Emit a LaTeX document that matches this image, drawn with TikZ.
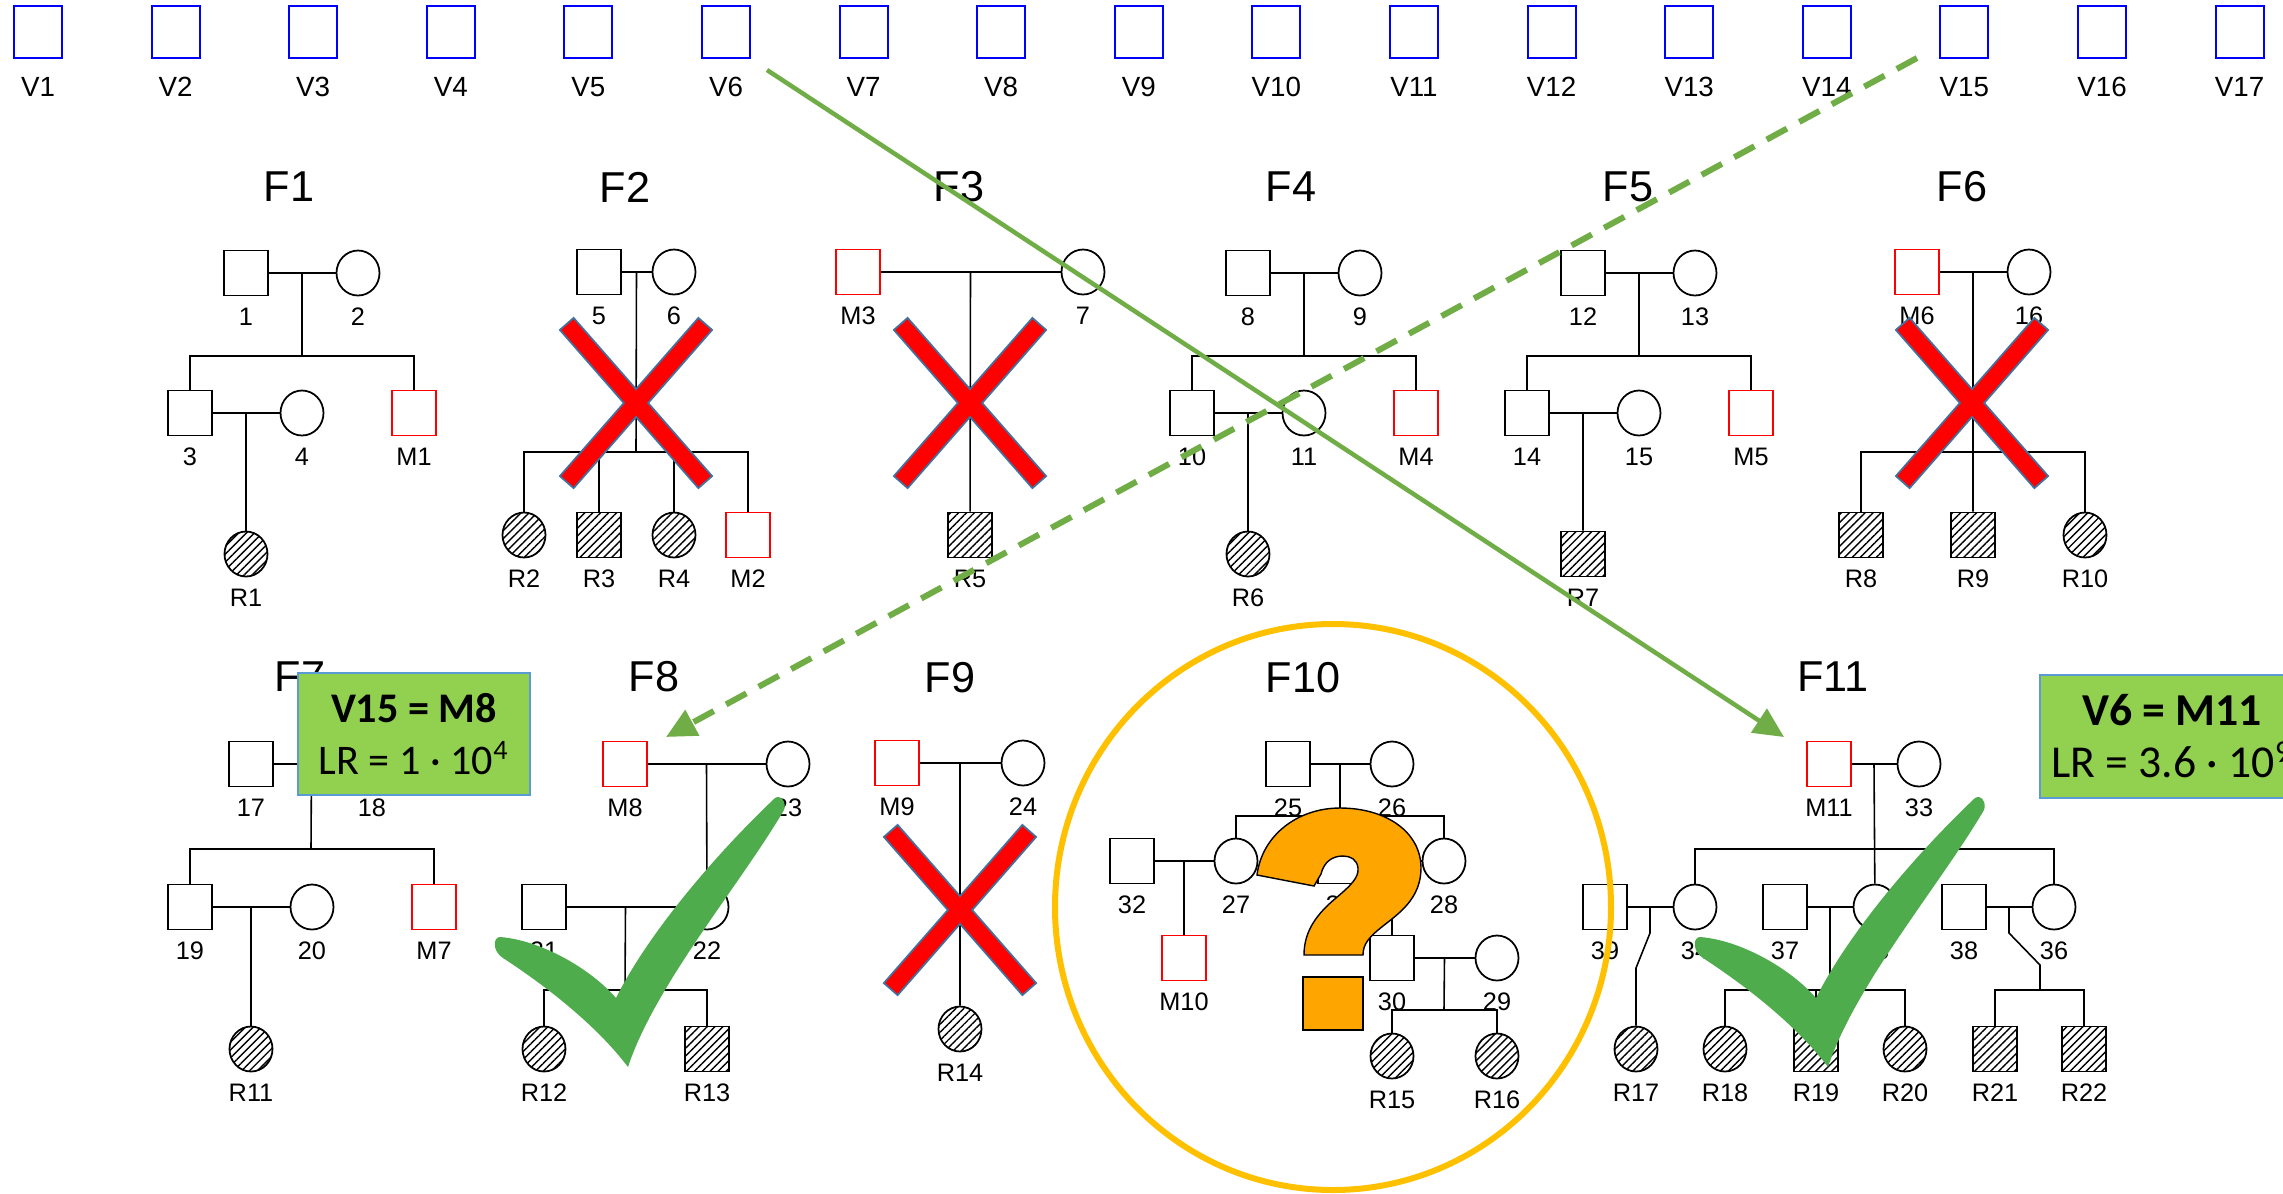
\documentclass[tikz,border=0pt]{standalone}
\usepackage{fontspec}
\setmainfont{Liberation Sans}
\newfontfamily\boxfont{Carlito}
\usetikzlibrary{calc,shapes.geometric,patterns.meta,arrows.meta}

\definecolor{vblue}{RGB}{0,0,255}
\definecolor{xedge}{RGB}{65,113,156}
\definecolor{linkgreen}{RGB}{112,173,71}
\definecolor{okgreen}{RGB}{78,172,77}
\definecolor{boxgreen}{RGB}{146,208,80}
\definecolor{boxedge}{RGB}{91,155,213}
\definecolor{qorange}{RGB}{255,165,0}
\definecolor{ringgold}{RGB}{255,192,0}

% person symbol plus its number below
\newcommand\pers[4]{%
  \node[#1] (#2) at (#3) {};
  \node[lab] (#2l) at ($(#2)+(0,44)$) {#4};}
% red cross over an excluded family
\newcommand\nogo[2]{%
  \node[xbar,rotate=-48.8] (#1a) at (#2) {};
  \node[xbar,rotate=48.8] (#1b) at (#2) {};
  \node[xfill,rotate=-48.8] (#1c) at (#2) {};
  \node[xfill,rotate=48.8] (#1d) at (#2) {};}

\begin{document}
\begin{tikzpicture}[x=0.1mm, y=-0.1mm,
  kin/.style={line width=0.45pt},
  male/.style={draw, line width=0.5pt, minimum width=4.4mm, minimum height=4.5mm, inner sep=0pt},
  female/.style={male, ellipse, minimum width=4.3mm},
  miss/.style={male, draw=red},
  aff/.style={pattern={Lines[angle=45,distance=1.6pt,line width=0.4pt]}},
  lab/.style={font=\fontsize{7.2}{8}\selectfont, inner sep=0pt},
  vlab/.style={font=\fontsize{7.9}{9}\selectfont, inner sep=0pt},
  fam/.style={font=\fontsize{12.3}{14}\selectfont, inner sep=0pt},
  vic/.style={draw=vblue, line width=0.6pt, minimum width=4.8mm, minimum height=5.2mm, inner sep=0pt},
  xbar/.style={draw=xedge, fill=red, line width=0.2mm, minimum width=21mm, minimum height=1.8mm, inner sep=0pt},
  xfill/.style={fill=red, minimum width=20.8mm, minimum height=1.6mm, inner sep=0pt},
  lrbox/.style={draw=boxedge, fill=boxgreen, line width=0.2mm, align=center, inner sep=0pt},
  link/.style={draw=linkgreen, line width=0.45mm},
  ring/.style={draw=ringgold, line width=0.6mm}]

\useasboundingbox (0,0) rectangle (2283,1193);
\clip (0,0) rectangle (2283,1193);

% victims row
\foreach \i in {1,...,17} {
  \node[vic] (v\i) at ({38+137.6*(\i-1)},32) {};
  \node[vlab] (vl\i) at ({38+137.6*(\i-1)},87) {V\i};
}

% F1
\node[fam] (F1) at (289,187) {F1};
\pers{male}{n1}{246,273}{1}
\pers{female}{n2}{358,273}{2}
\pers{male}{n3}{190,413}{3}
\pers{female}{n4}{302,413}{4}
\pers{miss}{m1}{414,413}{M1}
\pers{female,aff}{r1}{246,554}{R1}
\coordinate (s1) at (302,356);
\draw[kin] (n1) -- (n2);
\draw[kin] ($(n1)!.5!(n2)$) -- (s1);
\draw[kin] (n3) |- (s1) -| (m1);
\draw[kin] (n3) -- (n4);
\draw[kin] ($(n3)!.5!(n4)$) -- (r1);

% F2
\node[fam] (F2) at (625,187) {F2};
\pers{male}{n5}{599,272}{5}
\pers{female}{n6}{674,272}{6}
\pers{female,aff}{r2}{524,535}{R2}
\pers{male,aff}{r3}{599,535}{R3}
\pers{female,aff}{r4}{674,535}{R4}
\pers{miss}{m2}{748,535}{M2}
\coordinate (s2) at (636,452);
\draw[kin] (n5) -- (n6);
\draw[kin] ($(n5)!.5!(n6)$) -- (s2);
\draw[kin] (r2) |- (s2) -| (m2);
\draw[kin] (r3) -- (r3 |- s2);
\draw[kin] (r4) -- (r4 |- s2);

% F3
\node[fam] (F3) at (959,187) {F3};
\pers{miss}{m3}{858,272}{M3}
\pers{female}{n7}{1083,272}{7}
\pers{male,aff}{r5}{970,535}{R5}
\draw[kin] (m3) -- (n7);
\draw[kin] ($(m3)!.5!(n7)$) -- (r5);

% F4
\node[fam] (F4) at (1291,187) {F4};
\pers{male}{n8}{1248,273}{8}
\pers{female}{n9}{1360,273}{9}
\pers{male}{n10}{1192,413}{10}
\pers{female}{n11}{1304,413}{11}
\pers{miss}{m4}{1416,413}{M4}
\pers{female,aff}{r6}{1248,554}{R6}
\coordinate (s4) at (1304,356);
\draw[kin] (n8) -- (n9);
\draw[kin] ($(n8)!.5!(n9)$) -- (s4);
\draw[kin] (n10) |- (s4) -| (m4);
\draw[kin] (n10) -- (n11);
\draw[kin] ($(n10)!.5!(n11)$) -- (r6);

% F5
\node[fam] (F5) at (1628,187) {F5};
\pers{male}{n12}{1583,273}{12}
\pers{female}{n13}{1695,273}{13}
\pers{male}{n14}{1527,413}{14}
\pers{female}{n15}{1639,413}{15}
\pers{miss}{m5}{1751,413}{M5}
\pers{male,aff}{r7}{1583,554}{R7}
\coordinate (s5) at (1639,356);
\draw[kin] (n12) -- (n13);
\draw[kin] ($(n12)!.5!(n13)$) -- (s5);
\draw[kin] (n14) |- (s5) -| (m5);
\draw[kin] (n14) -- (n15);
\draw[kin] ($(n14)!.5!(n15)$) -- (r7);

% F6
\node[fam] (F6) at (1962,187) {F6};
\pers{miss}{m6}{1917,272}{M6}
\pers{female}{n16}{2029,272}{16}
\pers{male,aff}{r8}{1861,535}{R8}
\pers{male,aff}{r9}{1973,535}{R9}
\pers{female,aff}{r10}{2085,535}{R10}
\coordinate (s6) at (1973,452);
\draw[kin] (m6) -- (n16);
\draw[kin] ($(m6)!.5!(n16)$) -- (r9);
\draw[kin] (r8) |- (s6) -| (r10);

% F7
\node[fam] (F7) at (300,677) {F7};
\pers{male}{n17}{251,764}{17}
\pers{female}{n18}{372,764}{18}
\pers{male}{n19}{190,907}{19}
\pers{female}{n20}{312,907}{20}
\pers{miss}{m7}{434,907}{M7}
\pers{female,aff}{r11}{251,1049}{R11}
\coordinate (s7) at (311,849);
\draw[kin] (n17) -- (n18);
\draw[kin] ($(n17)!.5!(n18)$) -- (s7);
\draw[kin] (n19) |- (s7) -| (m7);
\draw[kin] (n19) -- (n20);
\draw[kin] ($(n19)!.5!(n20)$) -- (r11);

% F8
\node[fam] (F8) at (654,677) {F8};
\pers{miss}{m8}{625,764}{M8}
\pers{female}{n23}{788,764}{23}
\pers{male}{n21}{544,907}{21}
\pers{female}{n22}{707,907}{22}
\pers{female,aff}{r12}{544,1049}{R12}
\pers{male,aff}{r13}{707,1049}{R13}
\coordinate (s8) at (625,990);
\draw[kin] (m8) -- (n23);
\draw[kin] ($(m8)!.5!(n23)$) -- (n22);
\draw[kin] (n21) -- (n22);
\draw[kin] ($(n21)!.5!(n22)$) -- (s8);
\draw[kin] (r12) |- (s8) -| (r13);

% F9
\node[fam] (F9) at (950,678) {F9};
\pers{miss}{m9}{897,763}{M9}
\pers{female}{n24}{1023,763}{24}
\pers{female,aff}{r14}{960,1029}{R14}
\draw[kin] (m9) -- (n24);
\draw[kin] ($(m9)!.5!(n24)$) -- (r14);

% F10
\node[fam] (F10) at (1303,678) {F10};
\pers{male}{n25}{1288,764}{25}
\pers{female}{n26}{1392,764}{26}
\pers{male}{n32}{1132,861}{32}
\pers{female}{n27}{1236,861}{27}
\pers{male}{n31}{1340,861}{31}
\pers{female}{n28}{1444,861}{28}
\pers{miss}{m10}{1184,958}{M10}
\pers{male}{n30}{1392,958}{30}
\pers{female}{n29}{1497,958}{29}
\pers{female,aff}{r15}{1392,1056}{R15}
\pers{female,aff}{r16}{1497,1056}{R16}
\coordinate (s10) at (1340,816);
\coordinate (t10) at (1444,1010);
\draw[kin] (n25) -- (n26);
\draw[kin] ($(n25)!.5!(n26)$) -- (s10);
\draw[kin] (n27) |- (s10) -| (n28);
\draw[kin] (n32) -- (n27);
\draw[kin] ($(n32)!.5!(n27)$) -- (m10);
\draw[kin] (n31) -- (n28);
\draw[kin] ($(n31)!.5!(n28)$) -- (n30);
\draw[kin] (n30) -- (n29);
\draw[kin] ($(n30)!.5!(n29)$) -- (t10);
\draw[kin] (r15) |- (t10) -| (r16);

% F11
\node[fam] (F11) at (1833,677) {F11};
\pers{miss}{m11}{1829,764}{M11}
\pers{female}{n33}{1919,764}{33}
\pers{male}{n39}{1605,907}{39}
\pers{female}{n34}{1695,907}{34}
\pers{male}{n37}{1785,907}{37}
\pers{female}{n35}{1875,907}{35}
\pers{male}{n38}{1964,907}{38}
\pers{female}{n36}{2054,907}{36}
\pers{female,aff}{r17}{1636,1049}{R17}
\pers{female,aff}{r18}{1725,1049}{R18}
\pers{male,aff}{r19}{1816,1049}{R19}
\pers{female,aff}{r20}{1905,1049}{R20}
\pers{male,aff}{r21}{1995,1049}{R21}
\pers{male,aff}{r22}{2084,1049}{R22}
\coordinate (s11) at (1874,849);
\coordinate (t11) at (1830,990);
\coordinate (u11) at (2040,990);
\coordinate (k1) at (1650,933);
\coordinate (k2) at (1636,968);
\coordinate (k3) at (2009,933);
\coordinate (k4) at (2040,965);
\draw[kin] (m11) -- (n33);
\draw[kin] ($(m11)!.5!(n33)$) -- (n35);
\draw[kin] (n34) |- (s11) -| (n36);
\draw[kin] (n39) -- (n34);
\draw[kin] ($(n39)!.5!(n34)$) -- (k1) -- (k2) -- (r17);
\draw[kin] (n37) -- (n35);
\draw[kin] ($(n37)!.5!(n35)$) -- (t11);
\draw[kin] (r18) |- (t11) -| (r20);
\draw[kin] (r19) -- (r19 |- t11);
\draw[kin] (n38) -- (n36);
\draw[kin] ($(n38)!.5!(n36)$) -- (k3) -- (k4) -- (u11);
\draw[kin] (r21) |- (u11) -| (r22);

% excluded families
\nogo{x2}{636,403}
\nogo{x3}{970,403}
\nogo{x6}{1972,403}
\nogo{x9}{960,910}

% F10 undecided
\draw[ring] (1333,907) ellipse [x radius=27.8mm, y radius=28.3mm];
\draw[fill=qorange, line width=0.4pt] (1257,875)
  .. controls (1262,835) and (1298,808) .. (1340,808)
  .. controls (1386,808) and (1421,832) .. (1421,868)
  .. controls (1421,899) and (1398,914) .. (1383,926)
  .. controls (1369,937) and (1363,944) .. (1363,955)
  -- (1304,955)
  .. controls (1304,930) and (1318,913) .. (1336,898)
  .. controls (1350,886) and (1359,878) .. (1358,868)
  .. controls (1357,859) and (1350,856) .. (1343,856)
  .. controls (1332,856) and (1324,862) .. (1321,874)
  -- (1314,886) -- cycle;
\draw[fill=qorange, line width=0.4pt] (1303,977) rectangle (1363,1030);

% identified families
\foreach \dx in {0,1200} {
  \fill[okgreen, shift={(\dx,0)}] (500,937)
    .. controls (540,940) and (590,968) .. (616,998)
    .. controls (650,930) and (720,850) .. (775,798)
    .. controls (781,794) and (787,803) .. (784,810)
    .. controls (740,885) and (655,985) .. (628,1067)
    .. controls (600,1030) and (555,992) .. (503,958)
    .. controls (492,951) and (493,937) .. (500,937) -- cycle;
}

\node[lrbox, minimum width=23.2mm, minimum height=12.2mm,
  font=\boxfont\fontsize{12}{15}\selectfont] (b8) at (414,734)
  {\textbf{V15 = M8}\\LR = 1 · 10\textsuperscript{4}};
\node[lrbox, minimum width=26.4mm, minimum height=12.3mm,
  font=\boxfont\fontsize{13}{15}\selectfont] (b11) at (2172,736)
  {\textbf{V6 = M11}\\LR = 3.6 · 10\textsuperscript{9}};

% matches
\coordinate (a6) at (767,70);
\coordinate (a11) at (1784,737);
\coordinate (a15) at (1917,58);
\coordinate (a8) at (666,737);
\draw[link, -{Triangle[length=3mm,width=2.8mm]}] (a6) -- (a11);
\draw[link, line width=0.6mm, dash pattern=on 2.3mm off 1.4mm,
  -{Triangle[length=3mm,width=2.8mm]}] (a15) -- (a8);

\end{tikzpicture}
\end{document}
